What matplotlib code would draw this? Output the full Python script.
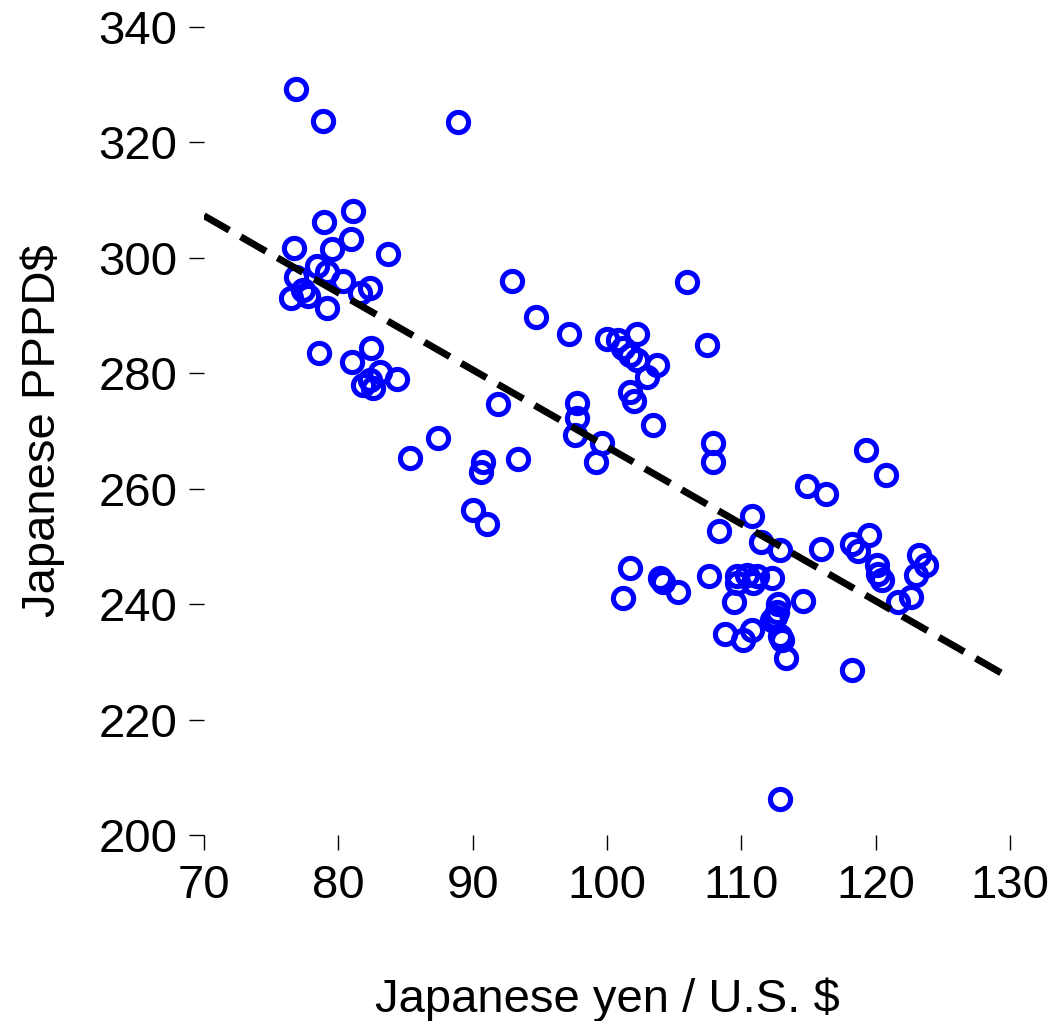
import matplotlib.pyplot as plt

# yen per dollar vs Japanese PPPD$
yen_usd = [76.85, 78.84, 88.88, 81.12, 78.94, 80.95, 76.68, 79.55, 83.72, 78.44,
           79.18, 76.85, 80.33, 82.36, 81.62, 77.39, 77.77, 76.48, 79.14, 78.59,
           82.43, 81.04, 83.10, 84.35, 81.84, 82.58, 82.36,
           92.96, 105.99, 94.72, 97.18, 99.99, 100.85, 102.26, 101.22, 101.72, 102.22,
           103.71, 102.96, 101.72, 102.04, 107.43, 91.91, 97.75, 97.75, 97.62, 99.66,
           99.17, 103.46, 87.40, 85.34, 90.75, 90.63, 93.40, 90.05, 91.05, 107.92, 107.92,
           119.29, 120.78, 114.88, 116.29, 110.83, 108.37, 111.47, 112.89, 115.96, 118.23,
           119.52, 118.72, 120.09, 120.21, 120.46, 123.24, 123.76, 123.02, 122.64, 121.65,
           101.72, 101.18, 103.95, 104.20, 105.32, 107.61, 109.66, 110.41, 111.15, 109.66,
           110.90, 112.27, 109.49, 112.76, 112.64, 112.52, 114.58, 108.79, 110.11, 110.78,
           112.89, 113.02, 113.31, 118.23, 112.89, 112.30]
pppd = [329.2, 323.7, 323.6, 308.1, 306.2, 303.2, 301.7, 301.6, 300.6, 298.5,
        297.5, 296.6, 296.0, 294.8, 293.9, 294.4, 293.3, 293.1, 291.3, 283.5,
        284.3, 282.0, 280.3, 279.0, 278.0, 277.5, 278.8,
        296.0, 295.8, 289.7, 286.8, 285.9, 285.8, 286.8, 284.3, 283.2, 282.3,
        281.4, 279.4, 276.8, 275.2, 284.9, 274.7, 274.9, 272.2, 269.3, 268.0,
        264.7, 271.0, 268.7, 265.3, 264.7, 262.9, 265.2, 256.3, 253.8, 268.0, 264.7,
        266.7, 262.3, 260.5, 259.1, 255.2, 252.7, 250.7, 249.4, 249.6, 250.5,
        251.9, 249.2, 246.8, 245.3, 244.2, 248.5, 246.8, 245.1, 241.2, 240.4,
        246.2, 241.0, 244.5, 243.9, 242.1, 244.9, 244.8, 245.1, 244.8, 243.6,
        243.6, 244.5, 240.4, 240.1, 238.7, 237.8, 240.5, 234.9, 233.8, 235.5,
        234.4, 233.8, 230.6, 228.5, 206.2, 237.3]

# fitted line, endpoints
fit_x = [70, 130]
fit_y = [307.3, 227.2]

plt.rcParams['font.family'] = ['Liberation Sans', 'DejaVu Sans']

fig = plt.figure(figsize=(10.59, 10.21), dpi=100)
ax = fig.add_axes([0.1926, 0.1822, 0.7611, 0.7914])

ax.plot(yen_usd, pppd, linestyle='none', marker='o', markersize=14.5,
        markerfacecolor='none', markeredgecolor='#0000ff', markeredgewidth=3.7,
        clip_on=False)
ax.plot(fit_x, fit_y, color='black', linewidth=5, linestyle=(0, (4.2, 1.9)))

ax.set_xlim(70, 130)
ax.set_ylim(200, 340)
ax.set_xticks([70, 80, 90, 100, 110, 120, 130])
ax.set_yticks([200, 220, 240, 260, 280, 300, 320, 340])
for s in ax.spines.values():
    s.set_visible(False)
ax.tick_params(direction='out', length=11, width=1, labelsize=34, pad=8)
ax.tick_params(axis='x', pad=10)

ax.set_xlabel('Japanese yen / U.S. $', fontsize=34, labelpad=50)
ax.set_ylabel('Japanese PPPD$', fontsize=34, labelpad=24)

fig.savefig('out.png', dpi=100)
